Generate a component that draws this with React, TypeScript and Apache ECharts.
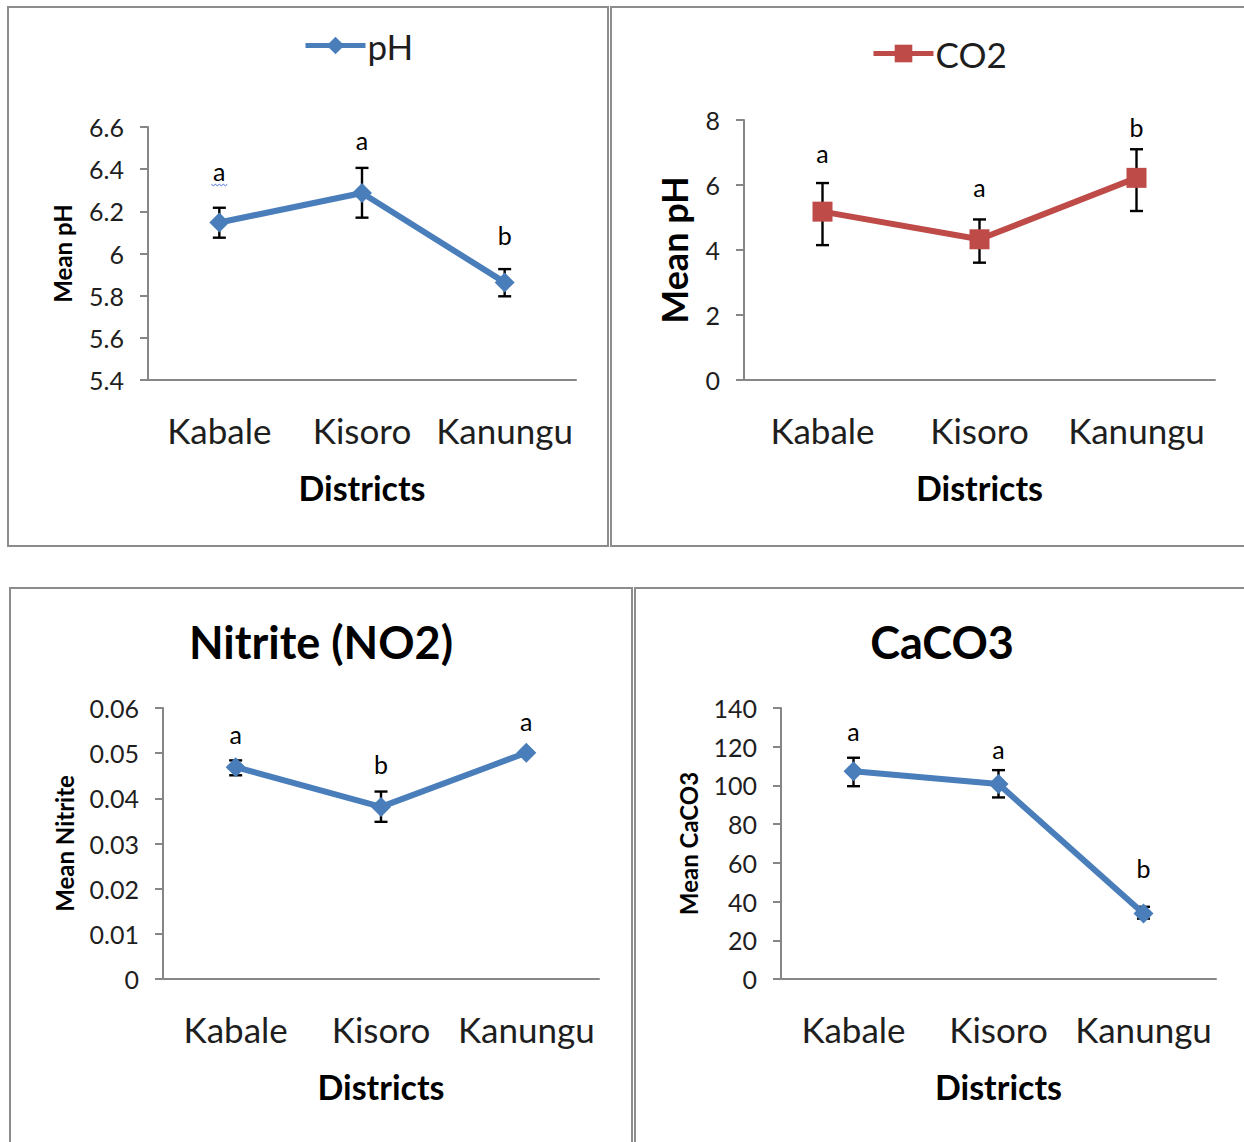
import React, { useEffect, useRef } from "react";
import * as echarts from "echarts";

const categories = ["Kabale", "Kisoro", "Kanungu"];

const phMean = [6.147, 6.287, 5.863];
const phLow = [6.075, 6.17, 5.797];
const phHigh = [6.217, 6.406, 5.926];
const phLetters = ["a", "a", "b"];
const phLetterY = [6.39, 6.536, 6.087];

const co2Mean = [5.18, 4.33, 6.22];
const co2Low = [4.15, 3.61, 5.2];
const co2High = [6.06, 4.94, 7.1];
const co2Letters = ["a", "a", "b"];
const co2LetterY = [6.97, 5.95, 7.77];

const no2Mean = [0.0469, 0.0381, 0.0501];
const no2Low = [0.0451, 0.0348, 0.0499];
const no2High = [0.0484, 0.0415, 0.0503];
const no2Letters = ["a", "b", "a"];
const no2LetterY = [0.0543, 0.0477, 0.0572];

const caco3Mean = [107.3, 100.7, 33.8];
const caco3Low = [99.6, 93.8, 31.2];
const caco3High = [114.3, 107.9, 37.3];
const caco3Letters = ["a", "a", "b"];
const caco3LetterY = [128, 119, 57.4];

const FONT = "Lato";
const BLUE = "#4a7ebb";
const RED = "#be4b48";
const AXIS = "#868686";
const TEXT = "#1e1e1e";

function errSeries(
  gi: number,
  low: number[],
  high: number[],
  letters: string[],
  letterY: number[],
  squiggleIndex: number = -1
) {
  return {
    type: "custom",
    xAxisIndex: gi,
    yAxisIndex: gi,
    z: 1,
    silent: true,
    data: categories.map((_, i) => [i, low[i], high[i], letterY[i]]),
    encode: { x: 0, y: [1, 2, 3] },
    renderItem: (params: any, api: any) => {
      const i = api.value(0);
      const top = api.coord([i, api.value(2)]);
      const bot = api.coord([i, api.value(1)]);
      const lt = api.coord([i, api.value(3)]);
      const w = 6.5;
      const st = { stroke: "#000", lineWidth: 2.4 };
      const children: any[] = [
        { type: "line", shape: { x1: top[0], y1: top[1], x2: bot[0], y2: bot[1] }, style: st },
        { type: "line", shape: { x1: top[0] - w, y1: top[1], x2: top[0] + w, y2: top[1] }, style: st },
        { type: "line", shape: { x1: bot[0] - w, y1: bot[1], x2: bot[0] + w, y2: bot[1] }, style: st },
        {
          type: "text",
          x: lt[0],
          y: lt[1],
          style: {
            text: letters[params.dataIndex],
            fill: "#000",
            font: `25px ${FONT}`,
            align: "center",
            verticalAlign: "middle",
          },
        },
      ];
      if (params.dataIndex === squiggleIndex) {
        const pts: number[][] = [];
        for (let k = 0; k <= 8; k++) {
          pts.push([lt[0] - 8 + k * 2, lt[1] + 13 + (k % 2 === 0 ? 0 : 1.5)]);
        }
        children.push({
          type: "polyline",
          shape: { points: pts },
          style: { stroke: "#4b6fe0", lineWidth: 1, fill: "none" },
        });
      }
      return { type: "group", children };
    },
  };
}

function xAx(gi: number) {
  return {
    type: "category",
    gridIndex: gi,
    data: categories,
    boundaryGap: true,
    axisLine: { lineStyle: { color: AXIS, width: 2 } },
    axisTick: { show: false },
    axisLabel: { color: TEXT, fontSize: 35, fontFamily: FONT, margin: 32, interval: 0 },
    name: "Districts",
    nameLocation: "middle",
    nameGap: 90,
    nameTextStyle: { color: "#000", fontSize: 34, fontWeight: "bold", fontFamily: FONT },
  };
}

function yAx(gi: number, min: number, max: number, interval: number, name: string, nameSize: number, nameGap: number) {
  return {
    type: "value",
    gridIndex: gi,
    min,
    max,
    interval,
    splitLine: { show: false },
    axisLine: { show: true, lineStyle: { color: AXIS, width: 2 } },
    axisTick: { show: true, length: 8, lineStyle: { color: AXIS, width: 2 } },
    axisLabel: { color: TEXT, fontSize: 25, fontFamily: FONT, margin: 24 },
    name,
    nameLocation: "middle",
    nameRotate: 90,
    nameGap,
    nameTextStyle: { color: "#000", fontSize: nameSize, fontWeight: "bold", fontFamily: FONT },
  };
}

function lineSeries(gi: number, name: string, data: number[], color: string, symbol: string, size: number) {
  return {
    type: "line",
    name,
    xAxisIndex: gi,
    yAxisIndex: gi,
    z: 3,
    data,
    symbol,
    symbolSize: size,
    lineStyle: { color, width: 6 },
    itemStyle: { color },
  };
}

export default function App() {
  const ref = useRef<HTMLDivElement>(null);
  useEffect(() => {
    if (!ref.current) return;
    const chart = echarts.init(ref.current, null, { renderer: "svg" });
    const border = { stroke: "#8c8c8c", lineWidth: 2, fill: "none" };
    const legendBase = {
      itemWidth: 60,
      itemHeight: 22,
      lineStyle: { width: 5 },
      textStyle: { fontSize: 35, fontFamily: FONT, color: TEXT, padding: [0, 0, 0, -3] },
    };
    chart.setOption({
      animation: false,
      backgroundColor: "#fff",
      textStyle: { fontFamily: FONT },
      title: [
        {
          text: "Nitrite (NO2)",
          left: 316,
          top: 614,
          textAlign: "center",
          textStyle: { fontSize: 45, fontWeight: "bold", fontFamily: FONT, color: "#000" },
        },
        {
          text: "CaCO3",
          left: 937,
          top: 614,
          textAlign: "center",
          textStyle: { fontSize: 45, fontWeight: "bold", fontFamily: FONT, color: "#000" },
        },
      ],
      legend: [
        { ...legendBase, data: ["pH"], left: 298, top: 23 },
        { ...legendBase, data: ["CO2"], left: 866, top: 31 },
      ],
      grid: [
        { left: 148, top: 127, width: 428, height: 253 },
        { left: 744, top: 120, width: 471, height: 260 },
        { left: 163, top: 708, width: 436, height: 271 },
        { left: 781, top: 708, width: 435, height: 271 },
      ],
      xAxis: [xAx(0), xAx(1), xAx(2), xAx(3)],
      yAxis: [
        yAx(0, 5.4, 6.6, 0.2, "Mean pH", 24, 74),
        yAx(1, 0, 8, 2, "Mean pH", 36, 52),
        yAx(2, 0, 0.06, 0.01, "Mean Nitrite", 24, 87),
        yAx(3, 0, 140, 20, "Mean CaCO3", 24, 81),
      ],
      series: [
        errSeries(0, phLow, phHigh, phLetters, phLetterY, 0),
        lineSeries(0, "pH", phMean, BLUE, "diamond", 20),
        errSeries(1, co2Low, co2High, co2Letters, co2LetterY),
        lineSeries(1, "CO2", co2Mean, RED, "rect", 20),
        errSeries(2, no2Low, no2High, no2Letters, no2LetterY),
        lineSeries(2, "Nitrite", no2Mean, BLUE, "diamond", 20),
        errSeries(3, caco3Low, caco3High, caco3Letters, caco3LetterY),
        lineSeries(3, "CaCO3", caco3Mean, BLUE, "diamond", 20),
      ],
      graphic: [
        { type: "rect", shape: { x: 8, y: 7, width: 600, height: 539 }, style: border, silent: true },
        { type: "rect", shape: { x: 611, y: 7, width: 645, height: 539 }, style: border, silent: true },
        { type: "rect", shape: { x: 10, y: 588, width: 622, height: 570 }, style: border, silent: true },
        { type: "rect", shape: { x: 635, y: 588, width: 620, height: 570 }, style: border, silent: true },
      ],
    });
    return () => chart.dispose();
  }, []);
  return (
    <div
      ref={ref}
      style={{ position: "absolute", left: 0, top: 0, width: 1244, height: 1142 }}
    />
  );
}
